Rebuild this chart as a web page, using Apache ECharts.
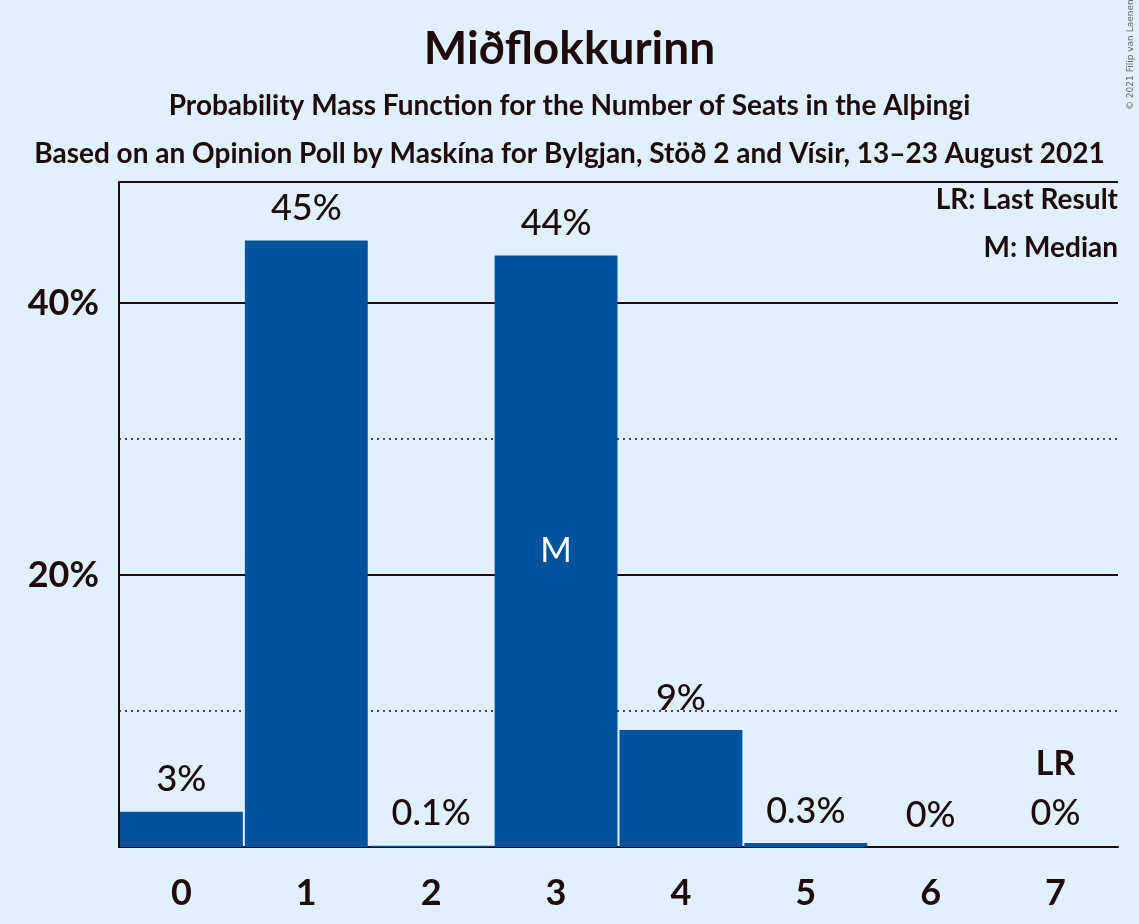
<!DOCTYPE html>
<html>
<head>
<meta charset="utf-8">
<script src="https://cdn.jsdelivr.net/npm/echarts@6/dist/echarts.min.js"></script>
<style>
  html, body { margin: 0; padding: 0; background: #E0F0FF; }
  #chart { width: 1139px; height: 924px; }
</style>
</head>
<body>
<div id="chart"></div>
<script>
var seats = ['0', '1', '2', '3', '4', '5', '6', '7'];
var probs = [2.6, 44.6, 0.1, 43.5, 8.6, 0.3, 0, 0];
var probLabels = ['3%', '45%', '0.1%', '44%', '9%', '0.3%', '0%', '0%'];
var medianSeat = 3;
var lastResultSeat = 7;

var ink = '#1F0A0A';
var barColor = '#03539C';
var font = 'Lato';

var chart = echarts.init(document.getElementById('chart'));

var option = {
  backgroundColor: '#E0F0FF',
  animation: false,
  textStyle: { fontFamily: font, color: ink },
  title: [
    { text: 'Miðflokkurinn', left: 'center', top: 21,
      textStyle: { fontFamily: font, fontSize: 46, fontWeight: 'bold', color: ink } },
    { text: 'Probability Mass Function for the Number of Seats in the Alþingi', left: 'center', top: 87,
      textStyle: { fontFamily: font, fontSize: 28, fontWeight: 'bold', color: ink } },
    { text: 'Based on an Opinion Poll by Maskína for Bylgjan, Stöð 2 and Vísir, 13–23 August 2021', left: 'center', top: 135,
      textStyle: { fontFamily: font, fontSize: 28, fontWeight: 'bold', color: ink } }
  ],
  graphic: [
    { type: 'text', right: 21, top: 186,
      style: { text: 'LR: Last Result', font: 'bold 28px Lato', fill: ink, textAlign: 'right' } },
    { type: 'text', right: 21, top: 234,
      style: { text: 'M: Median', font: 'bold 28px Lato', fill: ink, textAlign: 'right' } },
    { type: 'text', x: 1131, y: 110, rotation: Math.PI / 2,
      style: { text: '© 2021 Filip van Laenen', font: '9px "DejaVu Sans"', fill: '#666',
        textVerticalAlign: 'middle' } }
  ],
  grid: { left: 119, right: 21, top: 182, bottom: 77, outerBoundsMode: 'none', containLabel: false },
  xAxis: {
    type: 'category',
    data: seats,
    axisLine: { lineStyle: { color: ink, width: 2 } },
    axisTick: { show: false },
    axisLabel: { fontFamily: font, fontSize: 36, fontWeight: 'bold', color: ink, margin: 28 }
  },
  yAxis: [
    {
      type: 'value', min: 0, max: 48.9, interval: 20,
      axisLine: { show: true, lineStyle: { color: ink, width: 2 } },
      axisTick: { show: false },
      axisLabel: { fontFamily: font, fontSize: 36, fontWeight: 'bold', color: ink, margin: 20,
        showMinLabel: false, showMaxLabel: false,
        formatter: function (v) { return v + '%'; } },
      splitLine: { lineStyle: { color: ink, width: 2 } }
    },
    {
      type: 'value', min: 0, max: 48.9, interval: 10, position: 'left',
      axisLine: { show: false }, axisTick: { show: false }, axisLabel: { show: false },
      splitLine: { lineStyle: { color: ink, width: 1.5, type: [2, 4] } }
    }
  ],
  series: [{
    type: 'bar',
    data: probs.map(function (v, i) {
      var item = { value: v };
      if (i === lastResultSeat) {
        item.label = { formatter: '{lr|LR}\n{v|' + probLabels[i] + '}' };
      }
      return item;
    }),
    barCategoryGap: '1.6%',
    itemStyle: { color: barColor },
    label: {
      show: true, position: 'top', distance: 14,
      fontFamily: font, fontSize: 36, fontWeight: 500, color: ink,
      formatter: function (p) { return probLabels[p.dataIndex]; },
      rich: {
        lr: { fontFamily: font, fontSize: 34, fontWeight: 'bold', color: ink, lineHeight: 58 },
        v: { fontFamily: font, fontSize: 36, fontWeight: 500, color: ink, lineHeight: 40 }
      }
    },
    markPoint: {
      symbol: 'rect', symbolSize: 1,
      itemStyle: { color: 'rgba(0,0,0,0)' },
      label: { show: true, color: '#fff', fontFamily: font, fontSize: 34, formatter: 'M' },
      data: [{ coord: [seats[medianSeat], probs[medianSeat] / 2] }]
    }
  }]
};

chart.setOption(option);
</script>
</body>
</html>
